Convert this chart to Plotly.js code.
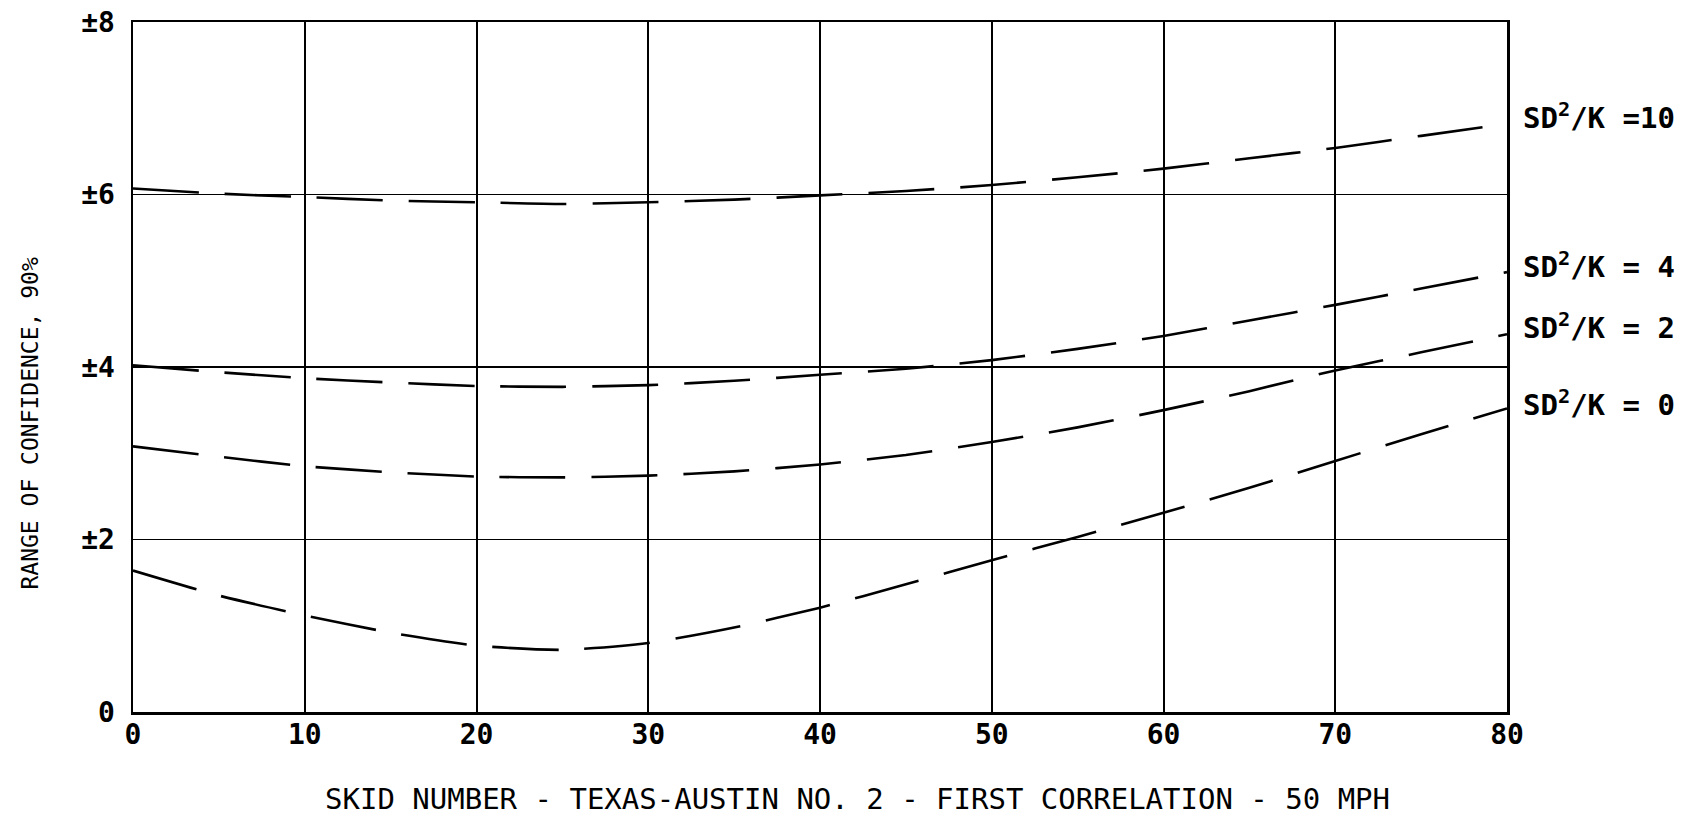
<!DOCTYPE html>
<html>
<head>
<meta charset="utf-8">
<script src="https://cdn.plot.ly/plotly-3.0.1.min.js"></script>
<style>
html,body{margin:0;padding:0;background:#fff;}
#chart{width:1696px;height:818px;}
</style>
</head>
<body>
<div id="chart"></div>
<script>
// Skid number (x axis)
const skidNumber = [0, 5, 10, 15, 20, 25, 30, 35, 40, 45, 50, 55, 60, 65, 70, 75, 80];

// Range of confidence, 90% for each SD^2/K value
const sd10 = [6.07, 6.01, 5.97, 5.93, 5.91, 5.89, 5.91, 5.94, 5.99, 6.04, 6.11, 6.20, 6.30, 6.42, 6.54, 6.68, 6.82];
const sd4  = [4.02, 3.94, 3.87, 3.82, 3.78, 3.77, 3.79, 3.84, 3.91, 3.98, 4.08, 4.21, 4.36, 4.54, 4.72, 4.91, 5.10];
const sd2  = [3.08, 2.96, 2.85, 2.78, 2.73, 2.72, 2.74, 2.79, 2.87, 2.98, 3.13, 3.30, 3.50, 3.72, 3.96, 4.17, 4.38];
const sd0  = [1.64, 1.35, 1.12, 0.92, 0.77, 0.72, 0.80, 0.98, 1.21, 1.48, 1.76, 2.03, 2.31, 2.60, 2.91, 3.22, 3.52];

const seriesNames = ["SD<sup>2</sup>/K =10", "SD<sup>2</sup>/K = 4", "SD<sup>2</sup>/K = 2", "SD<sup>2</sup>/K = 0"];
const labelY = [6.91, 5.18, 4.48, 3.58];

const xTickVals = [0, 10, 20, 30, 40, 50, 60, 70, 80];
const xTickText = ["0", "10", "20", "30", "40", "50", "60", "70", "80"];
const yTickVals = [0, 2, 4, 6, 8];
const yTickText = ["0", "±2", "±4", "±6", "±8"];

const xTitle = "SKID NUMBER - TEXAS-AUSTIN NO. 2 - FIRST CORRELATION - 50 MPH";
const yTitle = "RANGE OF CONFIDENCE, 90%";

const FONT = "DejaVu Sans Mono, monospace";
const allSeries = [sd10, sd4, sd2, sd0];

const traces = allSeries.map((ys, i) => ({
  x: skidNumber,
  y: ys,
  type: "scatter",
  mode: "lines",
  name: seriesNames[i],
  line: {color: "#000", width: 2.6, dash: "66px,26px", shape: "spline", smoothing: 0.6},
  hoverinfo: "skip",
  showlegend: false
}));

const annotations = seriesNames.map((t, i) => ({
  text: t,
  xref: "paper",
  yref: "y",
  x: 1.0105,
  y: labelY[i],
  xanchor: "left",
  yanchor: "middle",
  showarrow: false,
  font: {family: FONT, size: 29, color: "#000", weight: "bold"}
}));

// Axis titles (placed as annotations to match the original offsets)
annotations.push({
  text: xTitle,
  xref: "paper", yref: "paper",
  x: 0.527, y: -0.1265,
  xanchor: "center", yanchor: "middle",
  showarrow: false,
  font: {family: FONT, size: 29, color: "#000"}
});
annotations.push({
  text: yTitle,
  xref: "paper", yref: "paper",
  x: -0.075, y: 0.418,
  xanchor: "center", yanchor: "middle",
  textangle: -90,
  showarrow: false,
  font: {family: FONT, size: 23, color: "#000"}
});

const layout = {
  width: 1696,
  height: 818,
  paper_bgcolor: "#fff",
  plot_bgcolor: "#fff",
  margin: {l: 133, r: 189, t: 22, b: 106},
  showlegend: false,
  xaxis: {
    range: [0, 80],
    tickvals: xTickVals,
    ticktext: xTickText,
    ticks: "",
    ticklabelstandoff: -4,
    showgrid: true,
    gridcolor: "#000",
    gridwidth: 2,
    zeroline: false,
    showline: true,
    linecolor: "#000",
    linewidth: 2.5,
    mirror: true,
    tickfont: {family: FONT, size: 28, color: "#000", weight: "bold"},
    fixedrange: true
  },
  yaxis: {
    range: [0, 8],
    tickvals: yTickVals,
    ticktext: yTickText,
    ticks: "",
    ticklabelstandoff: 10,
    showgrid: true,
    gridcolor: "#000",
    gridwidth: 1.5,
    zeroline: false,
    showline: true,
    linecolor: "#000",
    linewidth: 2.5,
    mirror: true,
    tickfont: {family: FONT, size: 28, color: "#000", weight: "bold"},
    fixedrange: true
  },
  annotations: annotations
};

Plotly.newPlot("chart", traces, layout, {displayModeBar: false, staticPlot: true});
</script>
</body>
</html>
